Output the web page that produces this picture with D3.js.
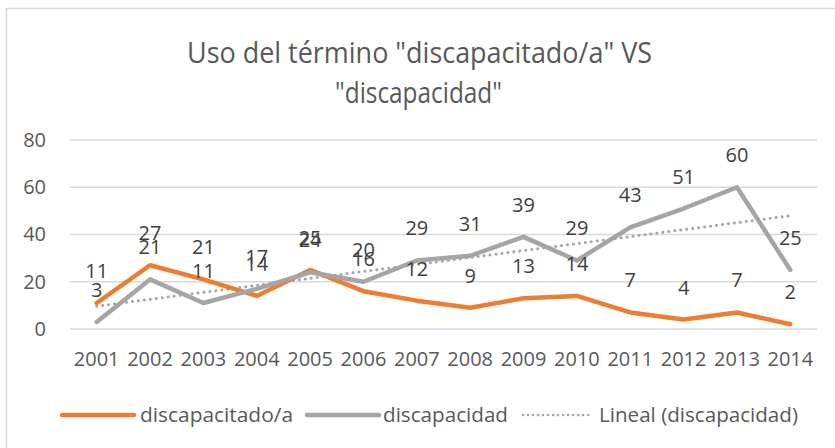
<!DOCTYPE html>
<html>
<head>
<meta charset="utf-8">
<script src="https://cdn.jsdelivr.net/npm/d3@7"></script>
<style>
  html, body { margin: 0; padding: 0; background: #fff; }
  svg { display: block; font-family: "Open Sans", sans-serif; }
</style>
</head>
<body>
<svg id="chart" width="835" height="448"></svg>
<script>
const years = ["2001","2002","2003","2004","2005","2006","2007","2008","2009","2010","2011","2012","2013","2014"];
const discapacitado = [11, 27, 21, 14, 25, 16, 12, 9, 13, 14, 7, 4, 7, 2];
const discapacidad = [3, 21, 11, 17, 24, 20, 29, 31, 39, 29, 43, 51, 60, 25];
const yTicks = [0, 20, 40, 60, 80];
const titleLines = ['Uso del término "discapacitado/a" VS', '"discapacidad"'];
const seriesNames = ["discapacitado/a", "discapacidad", "Lineal (discapacidad)"];

const ORANGE = "#ED7D31", GREY = "#A5A5A5";
const svg = d3.select("#chart");

// chart border
svg.append("rect").attr("x", 6.5).attr("y", 8.5).attr("width", 900).attr("height", 500)
  .attr("fill", "none").attr("stroke", "#D9D9D9").attr("stroke-width", 1.5);

// title
const titleX = [187, 335], titleW = [465, 167], titleY = [63, 103];
titleLines.forEach((t, i) => {
  svg.append("text").attr("x", titleX[i]).attr("y", titleY[i])
    .attr("font-size", 30).attr("fill", "#595959")
    .attr("textLength", titleW[i]).attr("lengthAdjust", "spacingAndGlyphs")
    .text(t);
});

const x = d3.scaleBand().domain(years).range([70, 817]);
const cx = d => x(d) + x.bandwidth() / 2;
const y = d3.scaleLinear().domain([0, 80]).range([329, 140]);

// gridlines
svg.append("g").selectAll("line").data(yTicks).join("line")
  .attr("x1", 70).attr("x2", 817)
  .attr("y1", d => y(d)).attr("y2", d => y(d))
  .attr("stroke", "#D9D9D9").attr("stroke-width", 1.5);

// y axis labels
const yAxis = d3.axisLeft(y).tickValues(yTicks).tickSize(0).tickPadding(0);
const gy = svg.append("g").attr("transform", "translate(46,0)").call(yAxis);
gy.select(".domain").remove();
gy.selectAll("text").attr("font-size", 20).attr("fill", "#595959")
  .attr("font-family", "Open Sans, sans-serif");

// x axis labels
const xAxis = d3.axisBottom(x).tickSize(0).tickPadding(0);
const gx = svg.append("g").attr("transform", "translate(0,352)").call(xAxis);
gx.select(".domain").remove();
gx.selectAll("text").attr("font-size", 20).attr("fill", "#595959")
  .attr("font-family", "Open Sans, sans-serif").attr("dy", "0.71em");

// trendline (linear regression of discapacidad)
const n = discapacidad.length;
const xs = d3.range(1, n + 1);
const mx = d3.mean(xs), my = d3.mean(discapacidad);
const slope = d3.sum(xs, (v, i) => (v - mx) * (discapacidad[i] - my)) / d3.sum(xs, v => (v - mx) ** 2);
const icpt = my - slope * mx;
const trend = [icpt + slope * 1, icpt + slope * n];
svg.append("line")
  .attr("x1", cx(years[0])).attr("x2", cx(years[n - 1]))
  .attr("y1", y(trend[0])).attr("y2", y(trend[1]))
  .attr("stroke", GREY).attr("stroke-width", 3)
  .attr("stroke-linecap", "round").attr("stroke-dasharray", "0.01 6");

const line = d3.line().x((d, i) => cx(years[i])).y(d => y(d));
svg.append("path").datum(discapacitado).attr("d", line)
  .attr("fill", "none").attr("stroke", ORANGE).attr("stroke-width", 4.5)
  .attr("stroke-linejoin", "round").attr("stroke-linecap", "round");
svg.append("path").datum(discapacidad).attr("d", line)
  .attr("fill", "none").attr("stroke", GREY).attr("stroke-width", 4.5)
  .attr("stroke-linejoin", "round").attr("stroke-linecap", "round");

// data labels
[discapacitado, discapacidad].forEach(arr => {
  svg.append("g").selectAll("text").data(arr).join("text")
    .attr("x", (d, i) => cx(years[i])).attr("y", d => y(d) - 25)
    .attr("text-anchor", "middle").attr("font-size", 20).attr("fill", "#404040")
    .text(d => d);
});

// legend
const legY = 415;
const legLines = [[62, 134], [307, 379], [523, 591]];
const legText = [[140, 153], [383, 125], [599, 199]];
const legColors = [ORANGE, GREY, GREY];
seriesNames.forEach((name, i) => {
  const l = svg.append("line").attr("x1", legLines[i][0]).attr("x2", legLines[i][1])
    .attr("y1", legY).attr("y2", legY).attr("stroke", legColors[i]);
  if (i < 2) l.attr("stroke-width", 4.5).attr("stroke-linecap", "round");
  else l.attr("stroke-width", 2.5).attr("stroke-linecap", "round").attr("stroke-dasharray", "0.01 5");
  svg.append("text").attr("x", legText[i][0]).attr("y", 422)
    .attr("font-size", 20).attr("fill", "#595959")
    .attr("textLength", legText[i][1]).attr("lengthAdjust", "spacingAndGlyphs")
    .text(name);
});
</script>
</body>
</html>
